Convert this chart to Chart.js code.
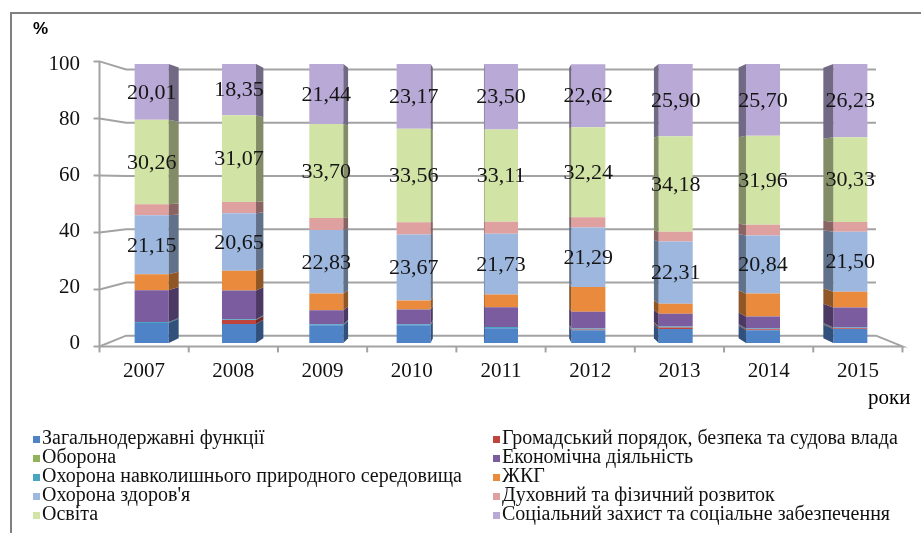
<!DOCTYPE html>
<html>
<head>
<meta charset="utf-8">
<script src="https://cdn.jsdelivr.net/npm/chart.js"></script>
<style>
    body { margin: 0; background: #fff; }
    #wrap { position: relative; width: 921px; height: 533px; overflow: hidden; background: #fff; }
    #frame { position: absolute; left: 10px; top: 12px; width: 930px; height: 540px;
             border-top: 2px solid #808080; border-left: 2px solid #808080; }
    #chart { position: absolute; left: 0; top: 0; }
    #pct { position: absolute; left: 33px; top: 19px; font: bold 17px "Liberation Sans", Arial, sans-serif; }
    #years { position: absolute; left: 868px; top: 385px; font: 21px "Liberation Serif", serif; }
    #legend { position: absolute; left: 33px; top: 428px; display: grid;
              grid-template-columns: 460px auto; grid-auto-rows: 19px;
              font: 20px "Liberation Serif", serif; color: #111; }
    #legend div { white-space: nowrap; line-height: 19px; }
    #legend span { display: inline-block; width: 7px; height: 7px; margin-right: 2px; vertical-align: 1px; }
</style>
</head>
<body>
<div id="wrap">
    <div id="frame"></div>
    <canvas id="chart" width="921" height="533"></canvas>
    <div id="pct">%</div>
    <div id="years">роки</div>
    <div id="legend"></div>
</div>
<script>
const years = ['2007', '2008', '2009', '2010', '2011', '2012', '2013', '2014', '2015'];
const yTicks = [0, 20, 40, 60, 80, 100];

//structure of spending, % of total, per year
const generalFunctions = [7.2, 6.8, 6.4, 6.4, 5.3, 4.6, 5.0, 4.6, 5.0];
const publicOrder      = [0, 1.4, 0, 0, 0, 0.2, 0.6, 0.3, 0.3];
const defence          = [0, 0, 0, 0, 0, 0, 0, 0, 0];
const environment      = [0.3, 0.3, 0.3, 0.3, 0.4, 0.4, 0.3, 0.3, 0.3];
const economy          = [11.4, 10.3, 5.0, 5.3, 7.1, 6.0, 4.6, 4.3, 7.1];
const housing          = [5.7, 7.1, 6.0, 3.2, 4.6, 8.9, 3.6, 8.2, 5.7];
const health           = [21.15, 20.65, 22.83, 23.67, 21.73, 21.29, 22.31, 20.84, 21.50];
const culture          = [4.0, 4.0, 4.3, 4.4, 4.3, 3.7, 3.5, 3.8, 3.5];
const education        = [30.26, 31.07, 33.70, 33.56, 33.11, 32.24, 34.18, 31.96, 30.33];
const socialProtection = [20.01, 18.35, 21.44, 23.17, 23.50, 22.62, 25.90, 25.70, 26.23];

const series = [
    {label: 'Загальнодержавні функції', data: generalFunctions, color: '#4f83c8'},
    {label: 'Громадський порядок, безпека та судова влада', data: publicOrder, color: '#c0443c'},
    {label: 'Оборона', data: defence, color: '#93b25a'},
    {label: 'Економічна діяльність', data: economy, color: '#7b5c9f'},
    {label: 'Охорона навколишнього природного середовища', data: environment, color: '#4aa5c0'},
    {label: 'ЖКГ', data: housing, color: '#ea8a3c'},
    {label: 'Охорона здоров\'я', data: health, color: '#9db7df', showValue: true},
    {label: 'Духовний та фізичний розвиток', data: culture, color: '#dfa0a0'},
    {label: 'Освіта', data: education, color: '#d2e3a6', showValue: true},
    {label: 'Соціальний захист та соціальне забезпечення', data: socialProtection, color: '#b8a9d6', showValue: true}
];

//stacking order bottom-up (legend order differs: economy is listed before environment)
const stackOrder = [0, 1, 2, 4, 3, 5, 6, 7, 8, 9];

const serif = '"Liberation Serif", "Times New Roman", serif';

//perspective helpers: pull a point toward the vanishing point by k (negative pushes it out)
const VAN_Y = 184;
const FRONT = -0.0216, BACK = 0.046, BAR_DEPTH = 0.03;
function vanX(chart) {
    return (chart.chartArea.left + chart.chartArea.right) / 2;
}
function px(chart, x, k) { return x + (vanX(chart) - x) * k; }
function py(y, k) { return y + (VAN_Y - y) * k; }

function shade(hex, f) {
    const n = parseInt(hex.slice(1), 16);
    const r = Math.round(((n >> 16) & 255) * f), g = Math.round(((n >> 8) & 255) * f), b = Math.round((n & 255) * f);
    return 'rgb(' + r + ',' + g + ',' + b + ')';
}

//walls, floor and gridlines behind the bars
const wallsPlugin = {
    id: 'walls',
    beforeDatasetsDraw(chart) {
        const ctx = chart.ctx, y = chart.scales.y, x = chart.scales.x;
        const left = chart.chartArea.left, right = chart.chartArea.right;
        const fl = px(chart, left, FRONT), fr = px(chart, right, FRONT);
        const bl = px(chart, left, BACK), br = px(chart, right, BACK);
        ctx.save();
        ctx.strokeStyle = '#a3a3a3';
        ctx.lineWidth = 2;
        yTicks.forEach(v => {
            const fy = py(y.getPixelForValue(v), FRONT), by = py(y.getPixelForValue(v), BACK);
            ctx.beginPath();
            ctx.moveTo(fl - 6, fy);
            ctx.lineTo(fl, fy);
            ctx.lineTo(bl, by);
            ctx.lineTo(br, by);
            ctx.stroke();
        });
        //left wall front edge
        const y0 = y.getPixelForValue(0), y100 = y.getPixelForValue(100);
        ctx.beginPath();
        ctx.moveTo(fl, py(y100, FRONT));
        ctx.lineTo(fl, py(y0, FRONT));
        ctx.stroke();
        //floor: front edge, right edge, tick marks between categories
        ctx.beginPath();
        ctx.moveTo(fl, py(y0, FRONT));
        ctx.lineTo(fr, py(y0, FRONT));
        ctx.lineTo(br, py(y0, BACK));
        ctx.stroke();
        const step = x.getPixelForValue(1) - x.getPixelForValue(0);
        for (let i = 0; i <= years.length; i++) {
            const bx = px(chart, x.getPixelForValue(i) - step / 2, FRONT);
            ctx.beginPath();
            ctx.moveTo(bx, py(y0, FRONT));
            ctx.lineTo(bx, py(y0, FRONT) + 6);
            ctx.stroke();
        }
        ctx.restore();
    },
    afterDatasetsDraw(chart) {
        const ctx = chart.ctx, x = chart.scales.x, y = chart.scales.y;
        const vx = vanX(chart);
        ctx.save();
        //side faces of the columns, turned toward the middle
        chart.data.datasets.forEach((ds, di) => {
            const meta = chart.getDatasetMeta(di);
            meta.data.forEach(el => {
                const top = Math.min(el.y, el.base), bot = Math.max(el.y, el.base);
                if (bot - top < 0.1) return;
                const edge = el.x < vx ? el.x + el.width / 2 : el.x - el.width / 2;
                const sx = px(chart, edge, BAR_DEPTH);
                ctx.fillStyle = shade(ds.backgroundColor, 0.62);
                ctx.beginPath();
                ctx.moveTo(edge, top);
                ctx.lineTo(sx, py(top, BAR_DEPTH));
                ctx.lineTo(sx, py(bot, BAR_DEPTH));
                ctx.lineTo(edge, bot);
                ctx.closePath();
                ctx.fill();
            });
        });
        //value labels
        ctx.font = '22px ' + serif;
        ctx.fillStyle = '#151515';
        ctx.textAlign = 'center';
        ctx.textBaseline = 'middle';
        chart.data.datasets.forEach((ds, di) => {
            if (!ds.showValue) return;
            chart.getDatasetMeta(di).data.forEach((el, i) => {
                ctx.fillText(ds.data[i].toFixed(2).replace('.', ','), el.x, (el.y + el.base) / 2 + 1);
            });
        });
        //year labels on the front edge of the floor
        ctx.font = '21px ' + serif;
        ctx.fillStyle = '#111';
        years.forEach((label, i) => {
            ctx.fillText(label, px(chart, x.getPixelForValue(i), FRONT), 371);
        });
        ctx.restore();
    }
};

const datasets = stackOrder.map(i => ({
    label: series[i].label,
    data: series[i].data,
    backgroundColor: series[i].color,
    showValue: !!series[i].showValue,
    barPercentage: 0.39,
    categoryPercentage: 1
}));

const chart = new Chart(document.querySelector('#chart').getContext('2d'), {
    type: 'bar',
    data: { labels: years, datasets: datasets },
    options: {
        responsive: false,
        animation: false,
        layout: { padding: { left: 0, top: 64, right: 27, bottom: 190 } },
        plugins: { legend: { display: false }, tooltip: { enabled: false } },
        scales: {
            x: { stacked: true, display: false },
            y: {
                stacked: true, min: 0, max: 100,
                grid: { display: false, drawTicks: false },
                border: { display: false },
                ticks: { stepSize: 20, color: '#111', padding: 28, font: { family: serif, size: 21 } },
                afterFit: scale => { scale.width = 108; }
            }
        }
    },
    plugins: [wallsPlugin]
});

//legend in two columns, same order as the series list
const legend = document.querySelector('#legend');
series.forEach(s => {
    const item = document.createElement('div');
    const box = document.createElement('span');
    box.style.background = s.color;
    item.appendChild(box);
    item.appendChild(document.createTextNode(s.label));
    legend.appendChild(item);
});
</script>
</body>
</html>
